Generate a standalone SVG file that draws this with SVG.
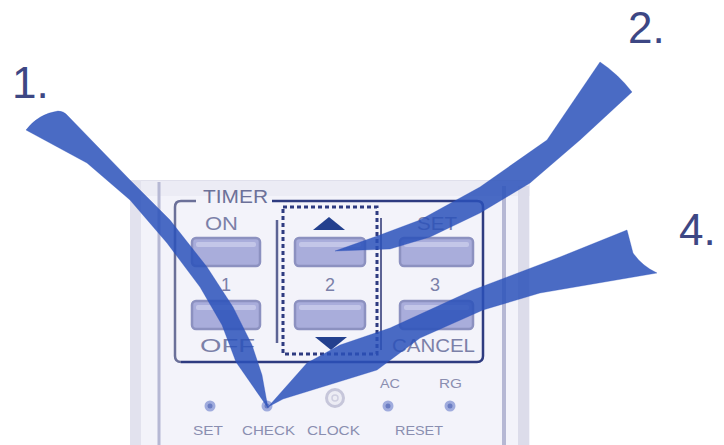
<svg xmlns="http://www.w3.org/2000/svg" width="724" height="445" viewBox="0 0 724 445">
<defs>
<style>
.num{font-family:"Liberation Sans",Arial,sans-serif;font-size:44px;fill:#3d4784}
.lbl{font-family:"Liberation Sans",Arial,sans-serif;font-size:18px;fill:#7b80a8}
.sm{font-family:"Liberation Sans",Arial,sans-serif;font-size:13px;fill:#8a8eb0}
.btn{fill:#a9addb;stroke:#8c91c0;stroke-width:2.5}
.hl{fill:#c3c6e8}
.dot{fill:#9fabdd}
.dotc{fill:#6a7cc2}
.arrow{fill:#2a51ba;fill-opacity:0.85;stroke:#2a51ba;stroke-opacity:0.3;stroke-width:1;stroke-linejoin:round}
</style>
</defs>
<rect width="724" height="445" fill="#ffffff"/>

<g id="remote">
<rect x="130" y="180" width="400" height="265" fill="#f3f3fa"/>
<rect x="130" y="180" width="400" height="16" fill="#ececf5"/>
<line x1="130" y1="180.5" x2="530" y2="180.5" stroke="#e0e0ec" stroke-width="1"/>
<rect x="130" y="180" width="11" height="265" fill="#e2e2ee"/>
<line x1="159" y1="182" x2="159" y2="445" stroke="#b6b8d4" stroke-width="3"/>
<line x1="504" y1="186" x2="504" y2="445" stroke="#b6b8d4" stroke-width="4"/>
<rect x="518" y="186" width="11" height="259" fill="#dcdcea"/>
</g>

<g id="timer-frame">
<path d="M196,201 H181 Q175,201 175,207 V356 Q175,362 181,362" fill="none" stroke="#6b7099" stroke-width="2.5"/>
<path d="M181,362 H477 Q483,362 483,356 V207 Q483,201 477,201 H272" fill="none" stroke="#2e3b80" stroke-width="2.5"/>
<text class="lbl" x="203" y="203" textLength="65" lengthAdjust="spacingAndGlyphs" style="fill:#6c7199">TIMER</text>
<rect x="283" y="207" width="94" height="147" fill="none" stroke="#2e3b80" stroke-width="3" stroke-dasharray="4 3"/>
<line x1="277" y1="220" x2="277" y2="343" stroke="#5c6394" stroke-width="2.5"/>
<line x1="381" y1="218" x2="381" y2="350" stroke="#5c6394" stroke-width="2"/>
</g>

<g id="button-on">
<text class="lbl" x="205" y="230" textLength="33" lengthAdjust="spacingAndGlyphs">ON</text>
<rect class="btn" x="192" y="238" width="68" height="28" rx="4"/>
<rect class="hl" x="196" y="242" width="60" height="5" rx="2"/>
<text class="lbl" x="226" y="291" text-anchor="middle">1</text>
</g>
<g id="button-off">
<rect class="btn" x="192" y="301" width="68" height="28" rx="4"/>
<rect class="hl" x="196" y="305" width="60" height="5" rx="2"/>
<text class="lbl" x="200" y="352" textLength="55" lengthAdjust="spacingAndGlyphs">OFF</text>
</g>
<g id="button-up">
<path d="M313,230 L329,217 L345,230 Z" fill="#23408e"/>
<rect class="btn" x="295" y="238" width="70" height="28" rx="4"/>
<rect class="hl" x="299" y="242" width="62" height="5" rx="2"/>
<text class="lbl" x="330" y="291" text-anchor="middle">2</text>
</g>
<g id="button-down">
<rect class="btn" x="295" y="301" width="70" height="28" rx="4"/>
<rect class="hl" x="299" y="305" width="62" height="5" rx="2"/>
<path d="M315,337 L347,337 L331,350 Z" fill="#23408e"/>
</g>
<g id="button-set">
<text class="lbl" x="417" y="230" textLength="40" lengthAdjust="spacingAndGlyphs">SET</text>
<rect class="btn" x="400" y="238" width="73" height="28" rx="4"/>
<rect class="hl" x="404" y="242" width="65" height="5" rx="2"/>
<text class="lbl" x="435" y="291" text-anchor="middle">3</text>
</g>
<g id="button-cancel">
<rect class="btn" x="400" y="301" width="73" height="28" rx="4"/>
<rect class="hl" x="404" y="305" width="65" height="5" rx="2"/>
<text class="lbl" x="392" y="352" textLength="83" lengthAdjust="spacingAndGlyphs">CANCEL</text>
</g>

<g id="btn-set-small">
<circle class="dot" cx="210" cy="406" r="5.5"/><circle class="dotc" cx="210" cy="406" r="2.5"/>
<text class="sm" x="193" y="435" textLength="30" lengthAdjust="spacingAndGlyphs">SET</text>
</g>
<g id="btn-check">
<circle class="dot" cx="267" cy="406" r="5.5"/><circle class="dotc" cx="267" cy="406" r="2.5"/>
<text class="sm" x="242" y="435" textLength="53" lengthAdjust="spacingAndGlyphs">CHECK</text>
</g>
<g id="btn-clock">
<circle cx="335" cy="398" r="8.5" fill="#ececf4" stroke="#c6c6da" stroke-width="3"/>
<circle cx="335" cy="398" r="3" fill="none" stroke="#cfcfe0" stroke-width="1.5"/>
<text class="sm" x="307" y="435" textLength="53" lengthAdjust="spacingAndGlyphs">CLOCK</text>
</g>
<g id="btn-ac">
<text class="sm" x="380" y="388" textLength="20" lengthAdjust="spacingAndGlyphs">AC</text>
<circle class="dot" cx="388" cy="406" r="5.5"/><circle class="dotc" cx="388" cy="406" r="2.5"/>
</g>
<g id="btn-rg">
<text class="sm" x="439" y="388" textLength="23" lengthAdjust="spacingAndGlyphs">RG</text>
<circle class="dot" cx="450" cy="406" r="5.5"/><circle class="dotc" cx="450" cy="406" r="2.5"/>
</g>
<g id="reset-label">
<text class="sm" x="395" y="435" textLength="48" lengthAdjust="spacingAndGlyphs">RESET</text>
</g>

<g id="step-1"><text class="num" x="12" y="98">1.</text></g>
<g id="step-2"><text class="num" x="628" y="43">2.</text></g>
<g id="step-4"><text class="num" x="679" y="245">4.</text></g>

<g id="connectors">
<path class="arrow" d="M26,130 Q38,114 58,111 Q64,111 68,116 L130,180 L170,220 L207,267 L233,307 L252,345 L262,375 L268,408 L236,362 L222,325 L200,287 L167,243 L130,200 L87,163 Z"/>
<path class="arrow" d="M600,62 Q618,74 632,92 L580,140 L530,183 L480,213 L430,237 L390,249 L335,251 L380,235 L420,220 L480,187 L547,140 Z"/>
<path class="arrow" d="M627,230 L633,253 Q642,266 657,273 L540,293 L483,310 L420,338 L377,370 L283,399 L268,407 L307,363 L340,345 L390,328 L473,290 L560,257 Z"/>
</g>
</svg>
